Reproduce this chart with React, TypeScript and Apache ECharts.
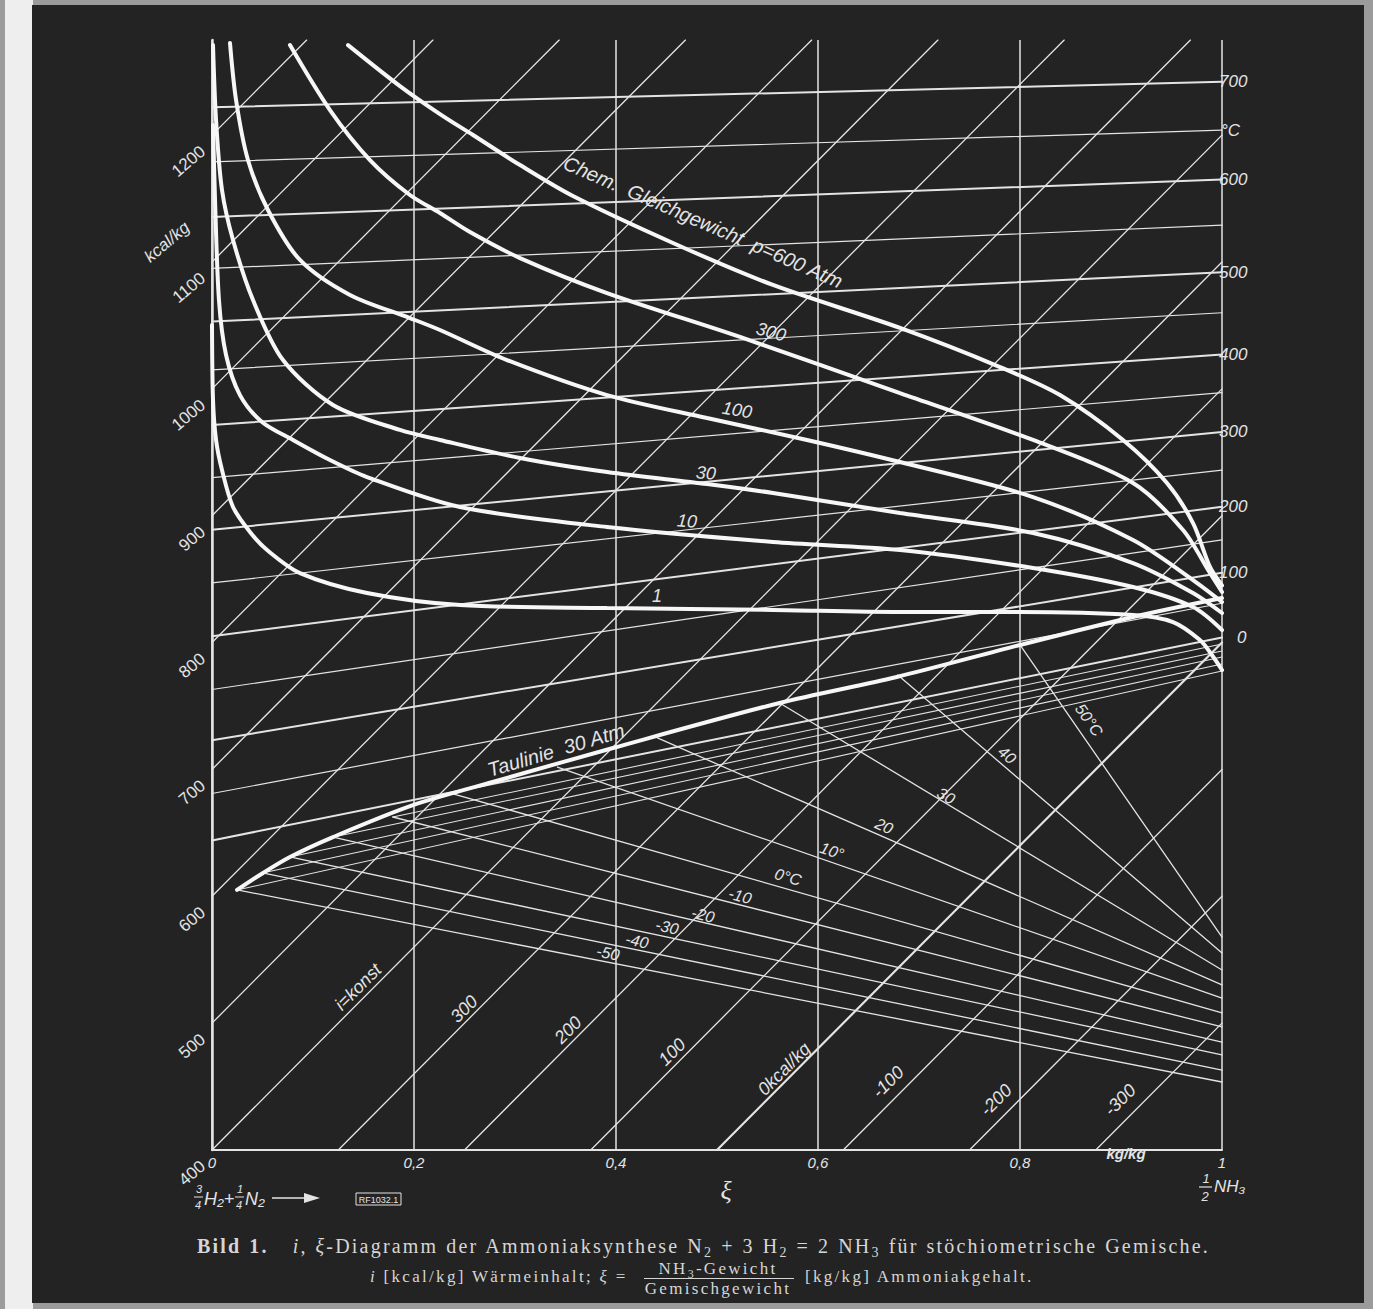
import React, { useEffect, useRef } from 'react';
import * as echarts from 'echarts';

// ---------------- data ----------------
// vertical scale (kcal/kg at xi = 0) and xi axis
const Y_MIN = 400;
const Y_MAX = 1275;
const X_INTERVAL = 0.2;
const Y_INTERVAL = 100;
const leftTickValues = [400, 500, 600, 700, 800, 900, 1000, 1100, 1200];

// oblique lines i = konst (kcal/kg); vertical-scale units per unit xi
const I_SLOPE = 800;
const iLineValues = [1200, 1100, 1000, 900, 800, 700, 600, 500, 400, 300, 200, 100, 0, -100, -200, -300];

// gas isotherms (°C): vertical-scale value at xi = 0 and xi = 1
const isoTemps = [700, 650, 600, 550, 500, 450, 400, 350, 300, 250, 200, 150, 100, 50, 0];
const isoLeftY = [1222, 1179, 1135.5, 1095, 1053, 1015, 971.5, 930, 889, 847, 805, 763, 723, 681, 644];
const isoRightY = [1242, 1204, 1165, 1129, 1092, 1060, 1027, 997, 966, 936, 907, 881, 855, 831, 804];

// fog isotherms: dew point on the Taulinie -> liquid NH3 at xi = 1
const fogTemps = [50, 40, 30, 20, 10, 0, -10, -20, -30, -40, -50];
const fogDewXi = [0.8, 0.679, 0.562, 0.441, 0.342, 0.236, 0.179, 0.12, 0.077, 0.05, 0.025];
const fogDewY = [798.1, 774.4, 752.4, 724.8, 701.9, 681.4, 662.5, 646.7, 631, 618.4, 605];
const fogLiquidY = [567.9, 555.3, 541.9, 530.1, 519.8, 508, 497, 485, 475, 463, 453.6];

// sub-zero gas isotherms continued from the dew point to xi = 1
const subzeroTemps = [-10, -20, -30, -40, -50];
const subzeroRightY = [798.9, 793.4, 788.6, 783.1, 777.6];

// Taulinie 30 Atm
const dewLineXi = [0.0248, 0.0505, 0.0772, 0.1198, 0.199, 0.285, 0.397, 0.562, 0.678, 0.8, 0.912, 1];
const dewLineY = [605, 618.4, 631, 646.7, 671.9, 691.7, 716.9, 752.4, 772.9, 798.1, 820.2, 835.1];

// chemical equilibrium curves
const eq600Xi = [0.1347, 0.1861, 0.2257, 0.2584, 0.305, 0.3574, 0.4564, 0.5554, 0.6812, 0.7802, 0.8396, 0.902, 0.9455, 0.9713, 0.9881, 1];
const eq600Y = [1271, 1238.7, 1216.6, 1200.1, 1176.4, 1152, 1115, 1081.9, 1048, 1017.2, 995.1, 959.7, 925.8, 894.2, 859.6, 845];
const eq300Xi = [0.0772, 0.1168, 0.1564, 0.196, 0.2257, 0.2554, 0.305, 0.3911, 0.5228, 0.6812, 0.8129, 0.9119, 0.9614, 0.9881, 1];
const eq300Y = [1271, 1219.8, 1180.4, 1152.8, 1138.6, 1123.6, 1103.1, 1075.5, 1040.9, 996.7, 959.7, 925.8, 888.7, 854.8, 839.9];
const eq100Xi = [0.0178, 0.0238, 0.0356, 0.0554, 0.0871, 0.1366, 0.196, 0.2257, 0.2921, 0.3911, 0.4901, 0.5891, 0.6812, 0.8129, 0.9119, 0.9713, 1];
const eq100Y = [1272.6, 1227.7, 1180.4, 1141, 1101.6, 1074, 1055.8, 1046.4, 1022.7, 995.1, 977, 959.7, 942.3, 914.7, 880.8, 849.3, 832];
const eq30Xi = [0.001, 0.004, 0.0099, 0.0208, 0.0406, 0.0703, 0.1198, 0.1861, 0.2257, 0.305, 0.3911, 0.4901, 0.5554, 0.6812, 0.8129, 0.9119, 0.9713, 1];
const eq30Y = [1271, 1211.9, 1156.7, 1117.3, 1070, 1022.7, 987.3, 967.6, 959.7, 945.5, 934.5, 925, 917.9, 902.1, 886.4, 862.7, 839.1, 823.3];
const eq10Xi = [0.001, 0.003, 0.0069, 0.0139, 0.0277, 0.0495, 0.0802, 0.1168, 0.1535, 0.2455, 0.3911, 0.5554, 0.6812, 0.8129, 0.9119, 0.9713, 1];
const eq10Y = [1208, 1148.9, 1070, 1026.7, 995.1, 973.9, 959.7, 943.9, 930.5, 906.9, 891.1, 879.3, 873, 858.8, 843.8, 828, 809.9];
const eq1Xi = [0, 0.001, 0.004, 0.0099, 0.0208, 0.0376, 0.0545, 0.0871, 0.1535, 0.2455, 0.3911, 0.5554, 0.6812, 0.8, 0.9119, 0.9515, 0.9782, 0.99, 1];
const eq1Y = [1050.3, 991.2, 959.7, 936, 906.9, 887.2, 873, 854.8, 839.1, 829.6, 827.2, 825.7, 824.1, 824.1, 821.7, 816.2, 802, 790.2, 778.4];

// texts
const rightLabelTemps = [700, 650, 600, 500, 400, 300, 200, 100, 0];
const rightLabelTexts = ['700', '°C', '600', '500', '400', '300', '200', '100', '0'];
const fogLabelTexts = ['50°C', '40', '30', '20', '10°', '0°C', '-10', '-20', '-30', '-40', '-50'];
const iLabelTexts = ['i=konst', '300', '200', '100', '0kcal/kg', '-100', '-200', '-300'];
const eqLabelTexts = ['Chem.  Gleichgewicht  p=600 Atm', '300', '100', '30', '10', '1'];

// ---------------- style ----------------
const FG = '#e4e4e4';
const FG_THICK = '#f7f7f7';
const SANS = "'Liberation Sans', 'DejaVu Sans', sans-serif";
const SERIF = "'Liberation Serif', 'DejaVu Serif', serif";

const zip = (xs: number[], ys: number[]) => xs.map((x, k) => [x, ys[k]]);

function lineSeries(data: number[][], width: number, color = FG, z = 2, smooth: number | boolean = false) {
  return {
    type: 'line',
    data,
    symbol: 'none',
    showSymbol: false,
    silent: true,
    smooth,
    clip: true,
    z,
    lineStyle: { color, width, cap: 'round' },
  };
}

function buildOption() {
  const series: any[] = [];
  isoTemps.forEach((t, k) => {
    series.push(lineSeries([[0, isoLeftY[k]], [1, isoRightY[k]]], t % 100 === 0 ? 2 : 1.2));
  });
  iLineValues.forEach((i) => {
    const x0 = Math.max(0, (Y_MIN - i) / I_SLOPE);
    const x1 = Math.min(1, (Y_MAX - i) / I_SLOPE);
    series.push(lineSeries([[x0, i + I_SLOPE * x0], [x1, i + I_SLOPE * x1]], i === 0 ? 2.2 : 1.3));
  });
  fogTemps.forEach((t, k) => {
    series.push(lineSeries([[fogDewXi[k], fogDewY[k]], [1, fogLiquidY[k]]], 1.3));
  });
  subzeroTemps.forEach((t, j) => {
    const k = fogTemps.indexOf(t);
    series.push(lineSeries([[fogDewXi[k], fogDewY[k]], [1, subzeroRightY[j]]], 1.1));
  });
  series.push(lineSeries(zip(dewLineXi, dewLineY), 4, FG_THICK, 6, 0.3));
  [
    [eq600Xi, eq600Y],
    [eq300Xi, eq300Y],
    [eq100Xi, eq100Y],
    [eq30Xi, eq30Y],
    [eq10Xi, eq10Y],
    [eq1Xi, eq1Y],
  ].forEach(([xs, ys]) => series.push(lineSeries(zip(xs, ys), 4, FG_THICK, 6, 0.3)));

  return {
    animation: false,
    backgroundColor: 'transparent',
    grid: { left: 212, right: 151, top: 40, bottom: 159 },
    xAxis: {
      type: 'value',
      min: 0,
      max: 1,
      interval: X_INTERVAL,
      axisLine: { show: true, onZero: false, lineStyle: { color: FG, width: 2 } },
      axisTick: { show: false },
      splitLine: { show: true, lineStyle: { color: FG, width: 1.5 } },
      axisLabel: {
        color: FG,
        fontStyle: 'italic',
        fontFamily: SANS,
        fontSize: 15,
        margin: 5,
        formatter: (v: number) => String(Math.round(v * 10) / 10).replace('.', ','),
      },
    },
    yAxis: {
      type: 'value',
      min: Y_MIN,
      max: Y_MAX,
      interval: Y_INTERVAL,
      axisLine: { show: true, onZero: false, lineStyle: { color: FG, width: 2.5 } },
      axisTick: { show: false },
      splitLine: { show: false },
      axisLabel: { show: false },
    },
    series,
  };
}

function T(
  text: string,
  x: number,
  y: number,
  o: { size?: number; rot?: number; align?: string; valign?: string; italic?: boolean; bold?: boolean; family?: string; color?: string } = {}
) {
  const font = `${o.italic === false ? 'normal' : 'italic'} ${o.bold ? 'bold' : 'normal'} ${o.size || 16}px ${o.family || SANS}`;
  const align = o.align || 'center';
  const valign = o.valign || 'middle';
  return {
    type: 'text',
    x,
    y,
    rotation: o.rot || 0,
    silent: true,
    z: 20,
    style: { text, fill: o.color || FG, font, textAlign: align, align, textVerticalAlign: valign, verticalAlign: valign },
  };
}

function buildGraphics(toPx: (x: number, y: number) => number[]) {
  const g: any[] = [];
  leftTickValues.forEach((v) => {
    const p = toPx(0, v);
    g.push(T(String(v), p[0] - 9, p[1] + 14, { size: 17, rot: 0.7, align: 'right', italic: false }));
  });
  g.push(T('kcal/kg', 167, 242, { size: 17, rot: 0.7 }));

  rightLabelTemps.forEach((t, j) => {
    const k = isoTemps.indexOf(t);
    const p = toPx(1, isoRightY[k]);
    const dx = t === 0 ? 18 : t === 650 ? 2 : 0;
    g.push(T(rightLabelTexts[j], p[0] - 3 + dx, p[1], { size: 17, align: 'left' }));
  });

  const fogPos = [
    [1089, 720, -0.96], [1007, 755, -0.71], [946, 796, -0.52], [884, 826, -0.42], [832, 851, -0.33],
    [788, 877, -0.29], [740, 896, -0.26], [703, 915, -0.24], [667, 927, -0.22], [637, 941, -0.21], [608, 953, -0.2],
  ];
  fogLabelTexts.forEach((s, k) => g.push(T(s, fogPos[k][0], fogPos[k][1], { size: 16, rot: fogPos[k][2] })));

  const iPos = [[358, 987], [464, 1009], [568, 1030], [672, 1052], [784, 1069], [888, 1082], [996, 1100], [1120, 1100]];
  iLabelTexts.forEach((s, k) => g.push(T(s, iPos[k][0], iPos[k][1], { size: 18, rot: 0.785 })));

  const eqPos = [[703, 222, -0.41, 20], [771, 332, -0.27, 18], [737, 410, -0.17, 18], [706, 473, -0.07, 18], [687, 521, -0.08, 18], [657, 596, 0, 18]];
  eqLabelTexts.forEach((s, k) => g.push(T(s, eqPos[k][0], eqPos[k][1], { size: eqPos[k][3], rot: eqPos[k][2] })));
  g.push(T('Taulinie  30 Atm', 556, 750, { size: 20, rot: 0.29 }));

  g.push(T('kg/kg', 1126, 1153, { size: 15, bold: true }));
  g.push(T('ξ', 726, 1190, { size: 26, family: SERIF }));
  g.push(T('1', 1206, 1178, { size: 13 }));
  g.push({ type: 'line', silent: true, z: 20, shape: { x1: 1199, y1: 1187, x2: 1212, y2: 1187 }, style: { stroke: FG, lineWidth: 1.2 } });
  g.push(T('2', 1205, 1196, { size: 13 }));
  g.push(T('NH₃', 1214, 1186, { size: 17, align: 'left' }));
  g.push(T('3', 199, 1189, { size: 11 }));
  g.push({ type: 'line', silent: true, z: 20, shape: { x1: 194, y1: 1197, x2: 203, y2: 1197 }, style: { stroke: FG, lineWidth: 1 } });
  g.push(T('4', 198, 1205, { size: 11 }));
  g.push(T('H₂+', 204, 1199, { size: 18, align: 'left' }));
  g.push(T('1', 240, 1189, { size: 11 }));
  g.push({ type: 'line', silent: true, z: 20, shape: { x1: 235, y1: 1197, x2: 244, y2: 1197 }, style: { stroke: FG, lineWidth: 1 } });
  g.push(T('4', 239, 1205, { size: 11 }));
  g.push(T('N₂', 245, 1199, { size: 18, align: 'left' }));
  g.push({ type: 'line', silent: true, z: 20, shape: { x1: 272, y1: 1198, x2: 306, y2: 1198 }, style: { stroke: FG, lineWidth: 1.6 } });
  g.push({ type: 'polygon', silent: true, z: 20, shape: { points: [[304, 1193], [320, 1198], [304, 1203]] }, style: { fill: FG } });
  g.push({ type: 'rect', silent: true, z: 20, shape: { x: 356, y: 1193, width: 45, height: 12 }, style: { fill: 'none', stroke: FG, lineWidth: 1 } });
  g.push(T('RF1032.1', 378.5, 1199.5, { size: 9, italic: false }));
  return g;
}

const Sub = ({ children }: { children: React.ReactNode }) => (
  <span style={{ fontSize: '0.7em', verticalAlign: '-0.3em', lineHeight: 0 }}>{children}</span>
);

export default function App() {
  const ref = useRef<HTMLDivElement>(null);
  useEffect(() => {
    const el = ref.current;
    if (!el) return;
    const chart = echarts.init(el, null, { renderer: 'svg' });
    chart.setOption(buildOption() as any);
    const toPx = (x: number, y: number) => chart.convertToPixel({ gridIndex: 0 } as any, [x, y]) as number[];
    chart.setOption({ graphic: buildGraphics(toPx) } as any);
    return () => chart.dispose();
  }, []);

  const capColor = '#d6d6d6';
  const cap2: React.CSSProperties = {
    position: 'absolute', fontFamily: SERIF, fontSize: 17, color: capColor, letterSpacing: '2.3px', whiteSpace: 'nowrap', lineHeight: '14px',
  };
  return (
    <div style={{ position: 'absolute', left: 0, top: 0, width: 1373, height: 1309, background: '#9b9b9b', overflow: 'hidden' }}>
      <div style={{ position: 'absolute', left: 5, top: 0, width: 28, height: 1309, background: '#eeeeee' }} />
      <div style={{ position: 'absolute', left: 32, top: 5, width: 1332, height: 1298, background: '#232323' }} />
      <div ref={ref} style={{ position: 'absolute', left: 0, top: 0, width: 1373, height: 1309 }} />
      <div
        style={{
          position: 'absolute', left: 197, top: 1237, width: 1013, fontFamily: SERIF, fontSize: 20, color: capColor,
          letterSpacing: '2.2px', whiteSpace: 'nowrap', textAlign: 'justify', textAlignLast: 'justify', lineHeight: '19px',
        } as any}
      >
        <b>Bild 1.</b>{'\u00a0\u00a0'} <i>i</i>, <i>ξ</i>-Diagramm der Ammoniaksynthese N<Sub>2</Sub> + 3 H<Sub>2</Sub> = 2 NH<Sub>3</Sub> für stöchiometrische Gemische.
      </div>
      <div style={{ ...cap2, left: 370, top: 1270 }}>
        <i>i</i> [kcal/kg] Wärmeinhalt; <i>ξ</i> =
      </div>
      <div style={{ ...cap2, left: 640, top: 1262, width: 156, textAlign: 'center' }}>
        NH<Sub>3</Sub>-Gewicht
      </div>
      <div style={{ position: 'absolute', left: 644, top: 1278, width: 150, height: 1, background: capColor }} />
      <div style={{ ...cap2, left: 640, top: 1282, width: 156, textAlign: 'center' }}>
        Gemischgewicht
      </div>
      <div style={{ ...cap2, left: 805, top: 1270 }}>
        [kg/kg] Ammoniakgehalt.
      </div>
    </div>
  );
}
